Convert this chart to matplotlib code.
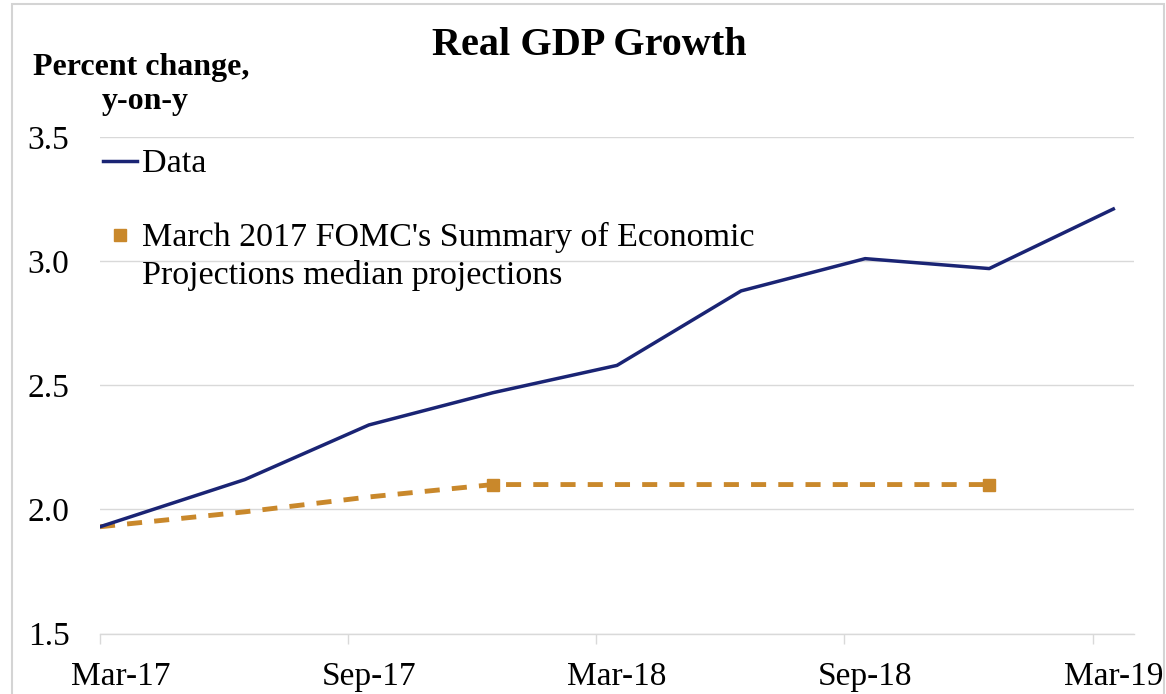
import matplotlib.pyplot as plt
from matplotlib.lines import Line2D
from matplotlib.patches import Rectangle
from matplotlib.ticker import FixedLocator, NullFormatter, FixedFormatter

# months since Mar-2017 (Excel month slots, points at slot centres)
data_months = [0, 3.5, 6.5, 9.5, 12.5, 15.5, 18.5, 21.5, 24.5]
data_values = [1.93, 2.12, 2.34, 2.47, 2.58, 2.88, 3.01, 2.97, 3.21]

proj_months = [0, 3.5, 6.5, 9.5, 12.5, 15.5, 18.5, 21.5]
proj_values = [1.93, 1.99, 2.05, 2.10, 2.10, 2.10, 2.10, 2.10]
proj_markers = [3, 7]

tick_months = [0, 6, 12, 18, 24]
tick_labels = ['Mar-17', 'Sep-17', 'Mar-18', 'Sep-18', 'Mar-19']
y_ticks = [1.5, 2.0, 2.5, 3.0, 3.5]

navy = '#1a2474'
gold = '#c9882b'
grid = '#d9d9d9'

plt.rcParams['font.family'] = ['Liberation Serif', 'DejaVu Serif']

fig = plt.figure(figsize=(11.66, 6.94), dpi=100)
ax = fig.add_axes([100 / 1166, 60.5 / 694, 1034 / 1166, 496.5 / 694])

ax.plot(proj_months, proj_values, color=gold, lw=3.5, linestyle=(0, (3.1, 2.5)),
        marker='s', markersize=9, markevery=proj_markers, zorder=2)
ax.plot(data_months, data_values, color=navy, lw=2.5, zorder=3)

ax.set_xlim(0, 25)
ax.set_ylim(1.5, 3.5)
ax.set_yticks(y_ticks)
ax.set_yticklabels([f'{v:.1f}' for v in y_ticks])
ax.yaxis.grid(True, color=grid, lw=1)
ax.set_axisbelow(True)

# ticks at slot edges, labels centred on the month slot
ax.xaxis.set_major_locator(FixedLocator(tick_months))
ax.xaxis.set_major_formatter(NullFormatter())
ax.xaxis.set_minor_locator(FixedLocator([m + 0.5 for m in tick_months]))
ax.xaxis.set_minor_formatter(FixedFormatter(tick_labels))
ax.tick_params(axis='x', which='major', length=7, width=1, color=grid, direction='out')
ax.tick_params(axis='x', which='minor', length=0, pad=20, labelsize=24)
ax.tick_params(axis='y', length=0, pad=22, labelsize=24)

for s in ['left', 'right', 'top']:
    ax.spines[s].set_visible(False)
ax.spines['bottom'].set_color(grid)
ax.spines['bottom'].set_linewidth(1)

fig.text(589 / 1166, 1 - 55 / 694, 'Real GDP Growth', ha='center', va='baseline',
         fontsize=29, fontweight='bold')
fig.text(33 / 1166, 1 - 75 / 694, 'Percent change,', ha='left', va='baseline',
         fontsize=23, fontweight='bold')
fig.text(145 / 1166, 1 - 109 / 694, 'y-on-y', ha='center', va='baseline',
         fontsize=23, fontweight='bold')

# legend drawn by hand to keep Excel's layout
fig.add_artist(Line2D([103 / 1166, 137 / 1166], [1 - 161 / 694, 1 - 161 / 694],
                      color=navy, lw=2.5, transform=fig.transFigure))
fig.text(142 / 1166, 1 - 172 / 694, 'Data', ha='left', va='baseline', fontsize=24.5)
fig.add_artist(Line2D([120 / 1166], [1 - 235 / 694], marker='s', markersize=8,
                      color=gold, linestyle='none', transform=fig.transFigure))
fig.text(142 / 1166, 1 - 246 / 694, "March 2017 FOMC's Summary of Economic",
         ha='left', va='baseline', fontsize=24.5)
fig.text(142 / 1166, 1 - 284 / 694, 'Projections median projections',
         ha='left', va='baseline', fontsize=24.5)

fig.add_artist(Rectangle((12 / 1166, -0.05), 1152 / 1166, 1.05 - 4 / 694,
                         transform=fig.transFigure, fill=False,
                         edgecolor='#d4d4d4', lw=1.5))

fig.savefig('out.png', dpi=100)
